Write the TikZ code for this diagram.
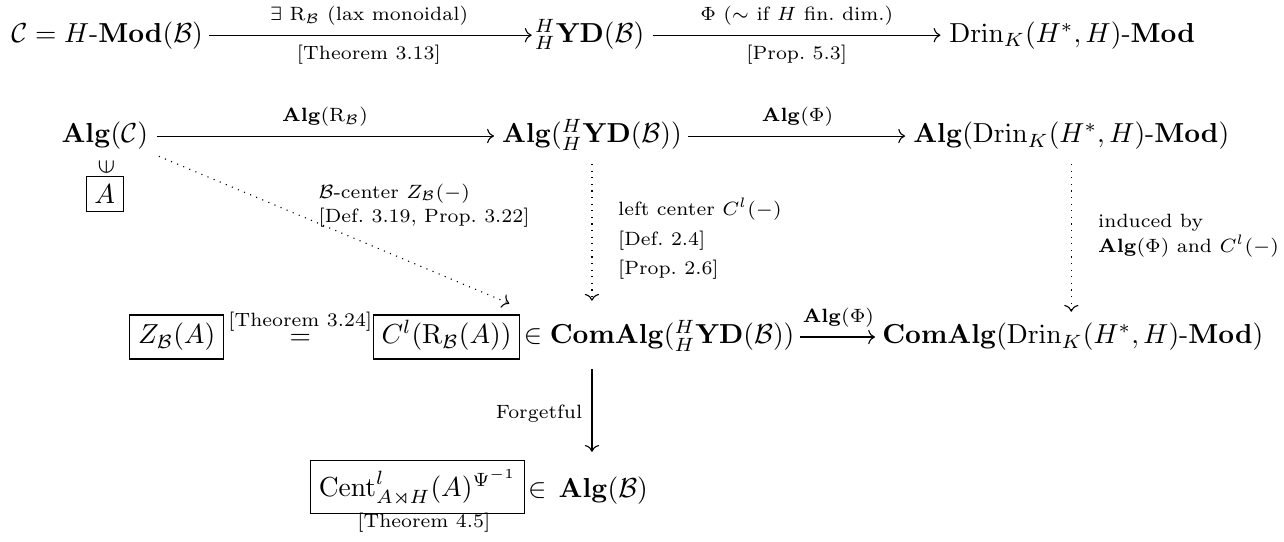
\documentclass[tikz,border=0pt]{standalone}
\usepackage{amsmath,amssymb}
\usepackage{graphicx}
\usetikzlibrary{arrows.meta,positioning}

\begin{document}
\begin{tikzpicture}[
    obj/.style={inner sep=1pt,text height=7.5pt,text depth=2.5pt},
    boxd/.style={draw,inner sep=3pt},
    lbl/.style={font=\scriptsize},
    arr/.style={-{Computer Modern Rightarrow},line width=0.4pt},
    darr/.style={arr,dotted}]
\useasboundingbox (0,0) rectangle (16.42,-6.93);
% categories
\node[obj] (catC) at (1.37,-0.45) {$\mathcal{C} = H\text{-}\mathbf{Mod}(\mathcal{B})$};
\node[obj] (ydB) at (7.54,-0.45) {${}^{H}_{H}\mathbf{YD}(\mathcal{B})$};
\node[obj] (drin) at (13.71,-0.45) {$\mathrm{Drin}_K(H^*,H)\text{-}\mathbf{Mod}$};
\draw[arr,shorten <=1pt] (catC) -- node[above,lbl]{$\exists\ \mathrm{R}_{\mathcal{B}}$ (lax monoidal)}
    node[below,lbl]{[Theorem 3.13]} (ydB);
\draw[arr,shorten <=2pt,shorten >=2pt] (ydB) -- node[above,lbl]{$\Phi$ ($\sim$ if $H$ fin.\ dim.)}
    node[below,lbl]{[Prop.~5.3]} (drin);
% algebras
\node[obj] (algC) at (1.34,-1.74) {$\mathbf{Alg}(\mathcal{C})$};
\node[obj] (algYD) at (7.57,-1.74) {$\mathbf{Alg}({}^{H}_{H}\mathbf{YD}(\mathcal{B}))$};
\node[obj] (algDrin) at (13.70,-1.74) {$\mathbf{Alg}(\mathrm{Drin}_K(H^*,H)\text{-}\mathbf{Mod})$};
\draw[arr,shorten <=2pt,shorten >=1.8pt] (algC) -- node[above,lbl]{$\mathbf{Alg}(\mathrm{R}_{\mathcal{B}})$} (algYD);
\draw[arr,shorten <=1pt,shorten >=1.8pt] (algYD) -- node[above,lbl]{$\mathbf{Alg}(\Phi)$} (algDrin);
\node (inA) at (1.36,-2.14) {\small\rotatebox{90}{$\in$}};
\node[boxd] (boxA) at (1.34,-2.48) {$A$};
% centers
\node[obj,boxd] (zA) at (2.26,-4.31) {$Z_{\mathcal{B}}(A)$};
\node[anchor=base,inner sep=0pt] (eqT) at (3.84,-4.40) {$\overset{\text{[Theorem 3.24]}}{=}$};
\node[obj,boxd] (clA) at (5.71,-4.31) {$C^{l}(\mathrm{R}_{\mathcal{B}}(A))$};
\node[obj] (comYD) at (8.43,-4.31) {$\in\mathbf{ComAlg}({}^{H}_{H}\mathbf{YD}(\mathcal{B}))$};
\node[obj] (comDrin) at (13.72,-4.31) {$\mathbf{ComAlg}(\mathrm{Drin}_K(H^*,H)\text{-}\mathbf{Mod})$};
\draw[arr,shorten <=1pt,shorten >=1.5pt] (comYD) -- node[above,lbl]{$\mathbf{Alg}(\Phi)$} (comDrin);
\node[boxd] (cent) at (5.34,-6.23) {$\mathrm{Cent}^{l}_{A\rtimes H}(A)^{\Psi^{-1}}$};
\node[lbl] (thm45) at (5.42,-6.69) {[Theorem 4.5]};
\node[obj] (algB) at (7.52,-6.27) {$\in\,\mathbf{Alg}(\mathcal{B})$};
% dotted maps
\draw[darr,shorten <=3pt] (algC.south east) -- ([shift={(-4pt,4pt)}]clA.north east);
\node[lbl,align=left,anchor=west] (zlbl) at (3.95,-2.63)
    {$\mathcal{B}$-center $Z_{\mathcal{B}}(-)$\\[1pt]{[Def.~3.19, Prop.~3.22]}};
\draw[darr,shorten <=4pt,shorten >=7pt] (algYD.south) -- (algYD.south |- comYD.north);
\node[lbl,align=left,anchor=west] (cllbl) at (7.78,-3.05)
    {left center $C^{l}(-)$\\[2.7pt]{[Def.~2.4]}\\[2.7pt]{[Prop.~2.6]}};
\draw[darr,shorten <=4pt,shorten >=3pt] (algDrin.south) -- (algDrin.south |- comDrin.north);
\node[lbl,align=left,anchor=west] (indlbl) at (13.92,-3.02)
    {induced by\\[1.1pt]$\mathbf{Alg}(\Phi)$ and $C^{l}(-)$};
% forgetful
\draw[arr,shorten <=5.6pt,shorten >=7.8pt] (comYD.south -| algYD) -- node[left,lbl]{Forgetful} (algB.north -| algYD);
\end{tikzpicture}
\end{document}
